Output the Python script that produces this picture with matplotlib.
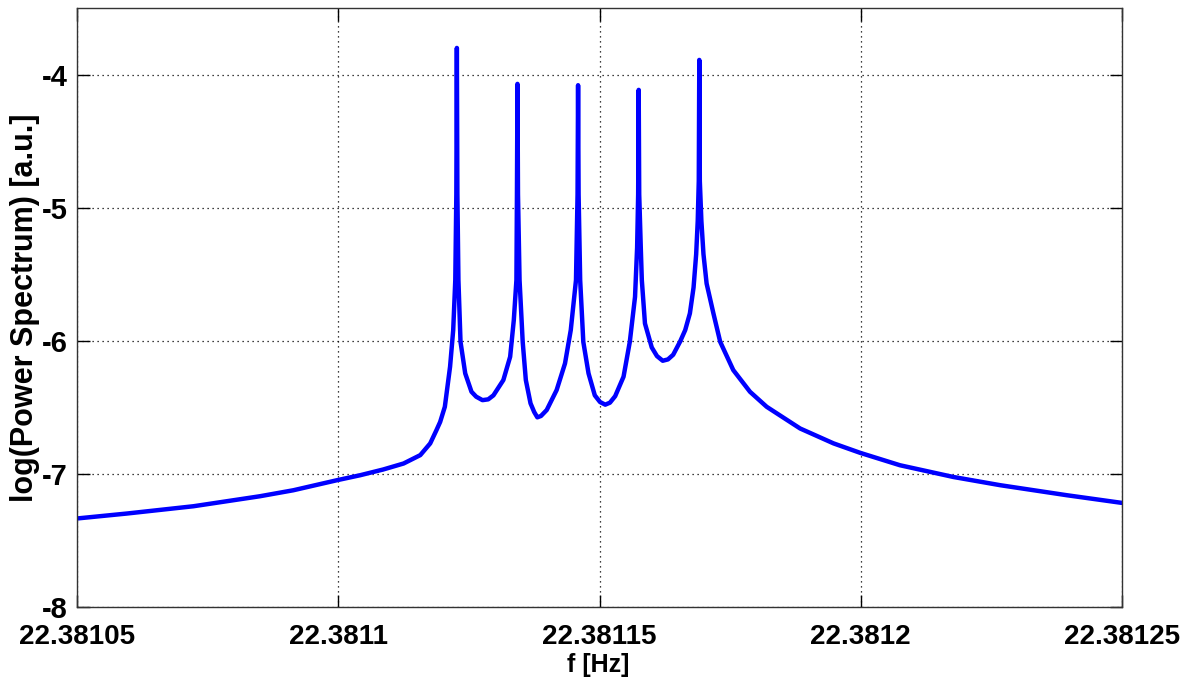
import matplotlib
matplotlib.use("Agg")
import matplotlib.pyplot as plt

freq_hz = [
    22.3810500, 22.3810595, 22.3810723, 22.3810850, 22.3810914, 22.3810997,
    22.3811042, 22.3811086, 22.3811125, 22.3811157, 22.3811176, 22.3811188,
    22.3811195, 22.3811204, 22.3811214, 22.3811220, 22.3811224, 22.3811226,
    22.3811227, 22.3811228, 22.3811230, 22.3811234, 22.3811243, 22.3811255,
    22.3811264, 22.3811276, 22.3811287, 22.3811297, 22.3811316, 22.3811329,
    22.3811336, 22.3811341, 22.3811342, 22.3811343, 22.3811344, 22.3811347,
    22.3811353, 22.3811359, 22.3811368, 22.3811375, 22.3811381, 22.3811388,
    22.3811399, 22.3811418, 22.3811434, 22.3811445, 22.3811455, 22.3811458,
    22.3811459, 22.3811460, 22.3811463, 22.3811469, 22.3811479, 22.3811491,
    22.3811501, 22.3811511, 22.3811520, 22.3811530, 22.3811546, 22.3811558,
    22.3811568, 22.3811572, 22.3811574, 22.3811575, 22.3811576, 22.3811579,
    22.3811581, 22.3811587, 22.3811600, 22.3811610, 22.3811621, 22.3811631,
    22.3811641, 22.3811654, 22.3811664, 22.3811673, 22.3811680, 22.3811685,
    22.3811688, 22.3811690, 22.3811691, 22.3811692, 22.3811695, 22.3811699,
    22.3811705, 22.3811718, 22.3811731, 22.3811756, 22.3811788, 22.3811820,
    22.3811884, 22.3811948, 22.3811999, 22.3812075, 22.3812177, 22.3812267,
    22.3812394, 22.3812500,
]
log_power = [
    -7.335, -7.298, -7.243, -7.168, -7.123, -7.048,
    -7.010, -6.967, -6.922, -6.859, -6.771, -6.671,
    -6.610, -6.496, -6.195, -5.920, -5.544, -4.900,
    -3.800, -4.900, -5.544, -6.008, -6.245, -6.383,
    -6.420, -6.446, -6.440, -6.410, -6.295, -6.120,
    -5.844, -5.544, -4.900, -4.070, -4.900, -5.544,
    -6.008, -6.295, -6.470, -6.535, -6.575, -6.565,
    -6.520, -6.370, -6.170, -5.920, -5.544, -4.900,
    -4.080, -4.900, -5.544, -6.008, -6.245, -6.410,
    -6.460, -6.480, -6.465, -6.416, -6.270, -6.008,
    -5.670, -5.300, -4.900, -4.115, -4.900, -5.300,
    -5.544, -5.870, -6.050, -6.115, -6.150, -6.140,
    -6.105, -6.008, -5.920, -5.794, -5.600, -5.350,
    -5.100, -4.800, -3.890, -4.800, -5.100, -5.350,
    -5.570, -5.794, -6.008, -6.220, -6.383, -6.496,
    -6.659, -6.771, -6.842, -6.935, -7.023, -7.085,
    -7.160, -7.218,
]

x_ticks = [22.38105, 22.3811, 22.38115, 22.3812, 22.38125]
x_tick_labels = ["22.38105", "22.3811", "22.38115", "22.3812", "22.38125"]
y_ticks = [-8, -7, -6, -5, -4]
y_tick_labels = ["-8", "-7", "-6", "-5", "-4"]

plt.rcParams["axes.unicode_minus"] = False
plt.rcParams["font.family"] = ["Liberation Sans", "DejaVu Sans"]

W, H = 1190, 687
ax_l, ax_r, ax_t, ax_b = 77, 1122, 8, 607

fig = plt.figure(figsize=(W / 100, H / 100), dpi=100)
ax = fig.add_axes([ax_l / W, (H - ax_b) / H, (ax_r - ax_l) / W, (ax_b - ax_t) / H])

ax.plot(freq_hz, log_power, color="#0000FF", linewidth=3.2,
        solid_joinstyle="round", solid_capstyle="round")

ax.set_xlim(22.38105, 22.38125)
ax.set_ylim(-8, -3.5)
ax.set_xticks(x_ticks)
ax.set_xticklabels(x_tick_labels, fontweight="bold", fontsize=20)
ax.set_yticks(y_ticks)
ax.set_yticklabels(y_tick_labels, fontweight="bold", fontsize=21)

ax.grid(True, color="black", linestyle=(0, (1, 3)), linewidth=0.9)
ax.tick_params(direction="in", length=9, width=1, top=True, right=True)
ax.tick_params(axis="x", pad=12)
ax.tick_params(axis="y", pad=7)
for s in ax.spines.values():
    s.set_color("#333333")
    s.set_linewidth(1.0)

ax.set_xlabel("f [Hz]", fontweight="bold", fontsize=18)
ax.xaxis.set_label_coords((598 - ax_l) / (ax_r - ax_l), -(665 - ax_b) / (ax_b - ax_t))
ax.xaxis.label.set_va("center")
ax.set_ylabel("log(Power Spectrum) [a.u.]", fontweight="bold", fontsize=22)
ax.yaxis.set_label_coords(-(ax_l - 25) / (ax_r - ax_l), 0.5)
ax.yaxis.label.set_va("center")

fig.savefig("out.png", dpi=100)
